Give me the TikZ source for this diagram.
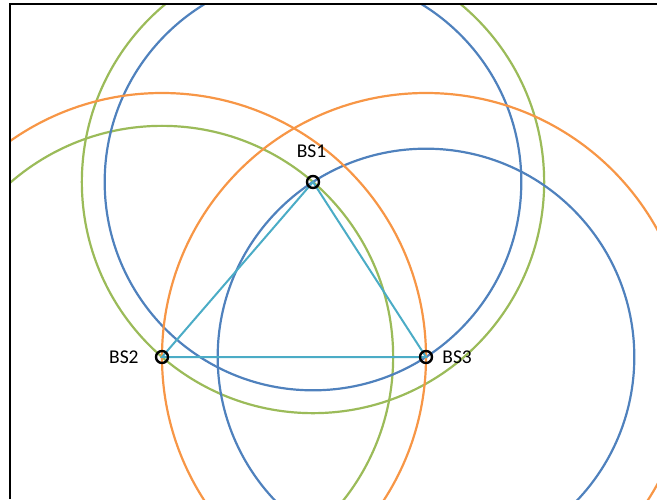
\documentclass[tikz,border=0pt]{standalone}
\usepackage{fontspec}
\setmainfont{Carlito}
\usepackage{xcolor}
\usetikzlibrary{positioning,calc}
\definecolor{ringblue}{HTML}{4F81BD}
\definecolor{ringgreen}{HTML}{9BBB59}
\definecolor{ringorange}{HTML}{F79646}
\definecolor{link}{HTML}{4BACC6}

\begin{document}
\begin{tikzpicture}[x=1pt,y=-1pt,
  station/.style={circle,draw=black,line width=2.4pt,minimum size=12pt,inner sep=0pt},
  ring/.style={line width=2.2pt},
  tag/.style={font=\fontsize{19.5}{19.5}\selectfont,inner sep=0pt}]
\useasboundingbox (0,0) rectangle (657,499);
\coordinate (c1) at (313,182);\coordinate (c2) at (162,357);\coordinate (c3) at (426,357);
% ranges: radius = distance to the other station
\begin{scope}
\clip (10.5,4.5) rectangle (657,499);
\foreach \ctr/\thr/\col in {c1/c2/ringgreen,c2/c1/ringgreen,c1/c3/ringblue,c3/c1/ringblue,c2/c3/ringorange,c3/c2/ringorange}
  \draw[ring,\col] let \p1=($(\thr)-(\ctr)$),\n1={veclen(\x1,\y1)} in (\ctr) circle (\n1);
\end{scope}
\draw[link,line width=2pt] (c1)--(c2)--(c3)--cycle;
\node[station] (bs1) at (c1) {};\node[station] (bs2) at (c2) {};\node[station] (bs3) at (c3) {};
\node[tag,above=17pt of bs1,xshift=-1.5pt] (t1) {BS1};
\node[tag,left=16pt of bs2] (t2) {BS2};
\node[tag,right=9pt of bs3] (t3) {BS3};
\draw[black,line width=2pt] (9.5,499)--(9.5,3.5)--(657,3.5);
\end{tikzpicture}
\end{document}
